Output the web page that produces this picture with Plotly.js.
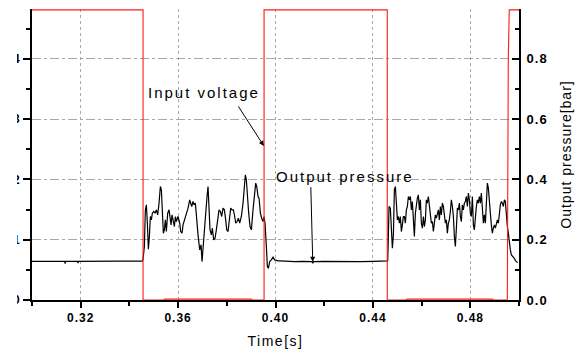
<!DOCTYPE html>
<html>
<head>
<meta charset="utf-8">
<script src="https://cdn.plot.ly/plotly-3.0.1.min.js"></script>
<style>
  html, body { margin: 0; padding: 0; background: #fff; }
  #wrap { position: relative; width: 580px; height: 351px; }
  #chart { width: 580px; height: 351px; }
  /* the reference is cropped on the left: only the right edge of the left-axis labels shows */
  #crop { position: absolute; left: 0; top: 0; width: 17px; height: 351px; background: #fff; }
  .annotation-text { letter-spacing: 2px; }
  .xtitle { letter-spacing: 1.5px; }
  .ytitle { letter-spacing: 1px; }
  .xtick text, .ytick text, .y2tick text { letter-spacing: 1px; }
</style>
</head>
<body>
<div id="wrap"><div id="chart"></div><div id="crop"></div></div>
<script>
// ---- Input voltage (red square wave), plotted on the left axis scale ----
const voltageTime = [0.3000, 0.3200, 0.3320, 0.3456, 0.3456, 0.3540, 0.3545, 0.3900, 0.3905, 0.3953, 0.3953, 0.4150, 0.4300, 0.4459, 0.4459, 0.4535, 0.4540, 0.4890, 0.4895, 0.4952, 0.4956, 0.4960, 0.5000];
const voltageValue = [0.962, 0.962, 0.962, 0.962, 0.000, 0.000, 0.003, 0.003, 0.000, 0.000, 0.962, 0.962, 0.962, 0.962, 0.000, 0.000, 0.003, 0.003, 0.000, 0.000, 0.800, 0.962, 0.962];

// ---- Output pressure [bar] (black) ----
const pressureTime = [
  0.3000, 0.3050, 0.3080, 0.3100, 0.3134, 0.3136, 0.3138, 0.3187, 0.3189, 0.3191, 0.3250, 0.3300, 0.3350, 0.3400, 0.3440, 0.3453,
  0.34560, 0.34615, 0.34656, 0.34697, 0.34738, 0.34779, 0.34820, 0.34861, 0.34902, 0.34943,
  0.34998, 0.35053, 0.35107, 0.35162, 0.35217, 0.35272, 0.35313, 0.35354, 0.35395, 0.35436,
  0.35477, 0.35518, 0.35573, 0.35628, 0.35669, 0.35710, 0.35751, 0.35792, 0.35847, 0.35888,
  0.35929, 0.35997, 0.36066, 0.36107, 0.36162, 0.36203, 0.36271, 0.36340, 0.36408, 0.36476,
  0.36517, 0.36558, 0.36613, 0.36654, 0.36709, 0.36750, 0.36819, 0.36887, 0.36942, 0.36983,
  0.37024, 0.37079, 0.37133, 0.37188, 0.37229, 0.37270, 0.37311, 0.37366, 0.37407, 0.37462,
  0.37517, 0.37571, 0.37626, 0.37681, 0.37736, 0.37790, 0.37845, 0.37900, 0.37955, 0.37996,
  0.38051, 0.38105, 0.38160, 0.38215, 0.38270, 0.38324, 0.38366, 0.38420, 0.38475, 0.38530,
  0.38598, 0.38667, 0.38721, 0.38762, 0.38803, 0.38845, 0.38899, 0.38954, 0.39009, 0.39077,
  0.39146, 0.39187, 0.39228, 0.39283, 0.39324, 0.39379, 0.39433, 0.39488, 0.39529, 0.39570,
  0.39625, 0.39666, 0.39707, 0.39762, 0.39830, 0.39899, 0.39967, 0.40035, 0.40104, 0.40172,
  0.4040, 0.4080, 0.4110, 0.4150, 0.4153, 0.4156, 0.4200, 0.4260, 0.4300, 0.4350, 0.4400, 0.4455,
  0.44553, 0.44608, 0.44635, 0.44663, 0.44717, 0.44758, 0.44799, 0.44841, 0.44882, 0.44923,
  0.44964, 0.45005, 0.45046, 0.45087, 0.45128, 0.45169, 0.45210, 0.45251, 0.45292, 0.45333,
  0.45374, 0.45416, 0.45457, 0.45498, 0.45539, 0.45580, 0.45621, 0.45662, 0.45703, 0.45744,
  0.45785, 0.45826, 0.45867, 0.45908, 0.45949, 0.45990, 0.46032, 0.46073, 0.46114, 0.46155,
  0.46196, 0.46237, 0.46278, 0.46319, 0.46360, 0.46401, 0.46442, 0.46483, 0.46524, 0.46565,
  0.46606, 0.46648, 0.46689, 0.46730, 0.46771, 0.46812, 0.46853, 0.46894, 0.46935, 0.46976,
  0.47017, 0.47058, 0.47099, 0.47140, 0.47181, 0.47222, 0.47264, 0.47305, 0.47346, 0.47387,
  0.47428, 0.47469, 0.47510, 0.47551, 0.47592, 0.47633, 0.47674, 0.47715, 0.47756, 0.47797,
  0.47838, 0.47880, 0.47921, 0.47962, 0.48003, 0.48044, 0.48085, 0.48126, 0.48167, 0.48208,
  0.48249, 0.48290, 0.48331, 0.48372, 0.48413, 0.48454, 0.48496, 0.48537, 0.48578, 0.48619,
  0.48660, 0.48701, 0.48742, 0.48783, 0.48824, 0.48865, 0.48906, 0.48947, 0.48988, 0.49029,
  0.49070, 0.49112, 0.49153, 0.49194, 0.49235, 0.49276, 0.49317, 0.49358, 0.49399, 0.49440,
  0.49481, 0.49522, 0.49563, 0.49604, 0.49645, 0.49687, 0.49728, 0.49769, 0.49810, 0.49851,
  0.49892, 0.49947
];
const pressureValue = [
  0.128, 0.128, 0.127, 0.128, 0.128, 0.121, 0.128, 0.128, 0.122, 0.128, 0.129, 0.128, 0.129, 0.129, 0.128, 0.129,
  0.1351, 0.1772, 0.2990, 0.3156, 0.2547, 0.1683, 0.2104, 0.2769, 0.2658, 0.2879,
  0.2935, 0.2879, 0.2990, 0.2824, 0.3212, 0.3765, 0.3655, 0.2879, 0.2215, 0.2326,
  0.2658, 0.2270, 0.2879, 0.2990, 0.2769, 0.2492, 0.2824, 0.2658, 0.2436, 0.2769,
  0.2602, 0.2769, 0.2547, 0.2270, 0.2215, 0.2492, 0.2658, 0.2824, 0.3046, 0.3322,
  0.3212, 0.3101, 0.3267, 0.3156, 0.3212, 0.2769, 0.2160, 0.1661, 0.1827, 0.1274,
  0.1772, 0.2436, 0.3101, 0.3433, 0.3765, 0.3212, 0.2326, 0.2160, 0.2381, 0.1993,
  0.2049, 0.2326, 0.2658, 0.2990, 0.2935, 0.2769, 0.3046, 0.2990, 0.2658, 0.2326,
  0.2270, 0.2658, 0.3046, 0.2990, 0.2990, 0.2769, 0.2547, 0.2602, 0.2713, 0.2547,
  0.2769, 0.3212, 0.3655, 0.4153, 0.3987, 0.3322, 0.2879, 0.2436, 0.2326, 0.2990,
  0.3544, 0.3876, 0.3765, 0.3433, 0.3378, 0.2879, 0.2713, 0.2602, 0.2769, 0.2547,
  0.1772, 0.1107, 0.1052, 0.1274, 0.1329, 0.1418, 0.1329, 0.1307, 0.1296, 0.1296,
  0.128, 0.127, 0.128, 0.127, 0.122, 0.127, 0.128, 0.127, 0.128, 0.127, 0.128, 0.1296,
  0.1296, 0.1296, 0.2104, 0.3101, 0.3046, 0.2326, 0.1717, 0.2160, 0.3655, 0.3765,
  0.3101, 0.2658, 0.2769, 0.2547, 0.2769, 0.2270, 0.2492, 0.2769, 0.2769, 0.2547,
  0.2990, 0.3101, 0.3433, 0.3322, 0.3433, 0.2990, 0.3267, 0.2713, 0.2104, 0.2879,
  0.3212, 0.3378, 0.3488, 0.2990, 0.3322, 0.2547, 0.2381, 0.2769, 0.2436, 0.2658,
  0.3322, 0.3212, 0.3433, 0.3046, 0.2658, 0.2547, 0.2602, 0.2270, 0.2547, 0.2824,
  0.2713, 0.2879, 0.2990, 0.2658, 0.3101, 0.2824, 0.3212, 0.3101, 0.2769, 0.2547,
  0.2658, 0.2215, 0.2547, 0.2658, 0.2935, 0.3322, 0.3101, 0.2769, 0.2104, 0.1772,
  0.2381, 0.3046, 0.2990, 0.3212, 0.2769, 0.2602, 0.3156, 0.2990, 0.3212, 0.3267,
  0.3433, 0.3101, 0.3544, 0.3322, 0.2879, 0.2769, 0.3433, 0.2492, 0.2326, 0.2879,
  0.3101, 0.3322, 0.3212, 0.3433, 0.3212, 0.3544, 0.2990, 0.2547, 0.2824, 0.2547,
  0.3212, 0.3876, 0.3710, 0.3101, 0.2879, 0.2492, 0.2215, 0.2381, 0.2492, 0.2381,
  0.2547, 0.2658, 0.2547, 0.2990, 0.3156, 0.3267, 0.3212, 0.3101, 0.3322, 0.3267,
  0.2658, 0.2436, 0.2215, 0.1772, 0.1661, 0.1495, 0.1462, 0.1418, 0.1384, 0.1307,
  0.1274, 0.1240
];

// ---- Axis ticks ----
const xTickStart = 0.32, xTickStep = 0.04;
const pressureTickStep = 0.2;
const leftTickVals = [0, 0.2, 0.4, 0.6, 0.8];
const leftTickLabels = ["0", "1", "2", "3", "4"];
const leftMinorVals = [0.1, 0.3, 0.5, 0.7, 0.9];

const FONT = 'Arial, "Liberation Sans", Helvetica, sans-serif';

const traces = [
  { x: pressureTime, y: pressureValue, type: 'scatter', mode: 'lines', yaxis: 'y',
    line: { color: '#000000', width: 1.2 }, hoverinfo: 'skip', name: 'Output pressure' },
  { x: voltageTime, y: voltageValue, type: 'scatter', mode: 'lines', yaxis: 'y2',
    line: { color: '#ff1a1a', width: 1.1 }, hoverinfo: 'skip', name: 'Input voltage' }
];

const layout = {
  width: 580, height: 351,
  margin: { l: 32, r: 61, t: 9, b: 51, pad: 0 },
  paper_bgcolor: '#ffffff', plot_bgcolor: '#ffffff',
  showlegend: false,
  font: { family: FONT, color: '#000000', size: 12 },
  xaxis: {
    range: [0.30, 0.50], tick0: xTickStart, dtick: xTickStep, tickformat: '.2f',
    ticks: 'outside', ticklen: 6, tickwidth: 2, tickcolor: '#000',
    showline: true, linewidth: 2, linecolor: '#000', mirror: false,
    showgrid: true, gridcolor: '#a8a8a8', griddash: 'dot', gridwidth: 1,
    zeroline: false,
    tickfont: { family: FONT, size: 12, weight: 'bold' },
    minor: { tick0: 0.30, dtick: 0.02, ticks: 'outside', ticklen: 4, tickwidth: 2, tickcolor: '#000', showgrid: false },
    title: { text: 'Time[s]', font: { family: FONT, size: 14 }, standoff: 12 }
  },
  yaxis: {
    side: 'right', range: [0, 0.965], tick0: 0, dtick: pressureTickStep, tickformat: '.1f',
    ticks: 'inside', ticklen: 7, tickwidth: 2, tickcolor: '#000',
    showline: true, linewidth: 2, linecolor: '#000',
    showgrid: true, gridcolor: '#a8a8a8', griddash: 'dashdot', gridwidth: 1,
    zeroline: false,
    tickfont: { family: FONT, size: 13, weight: 'bold' },
    ticklabelstandoff: 3,
    minor: { tick0: 0, dtick: 0.1, ticks: 'inside', ticklen: 4, tickwidth: 2, tickcolor: '#000', showgrid: false },
    title: { text: 'Output pressure[bar]', font: { family: FONT, size: 14 }, standoff: 15 }
  },
  yaxis2: {
    overlaying: 'y', side: 'left', range: [0, 0.965],
    tickmode: 'array', tickvals: leftTickVals, ticktext: leftTickLabels,
    ticks: 'outside', ticklen: 7, tickwidth: 2, tickcolor: '#000',
    showline: true, linewidth: 2, linecolor: '#000',
    showgrid: false, zeroline: false,
    tickfont: { family: FONT, size: 12, weight: 'bold' },
    minor: { tickmode: 'array', tickvals: leftMinorVals, ticks: 'outside', ticklen: 4, tickwidth: 2, tickcolor: '#000', showgrid: false }
  },
  annotations: [
    { text: 'Input voltage', xref: 'x', yref: 'y', x: 0.3705, y: 0.687, showarrow: false,
      font: { family: FONT, size: 15, color: '#000' }, xanchor: 'center', yanchor: 'middle' },
    { text: ' ', xref: 'x', yref: 'y', x: 0.3952, y: 0.511, showarrow: true, ax: -27, ay: -42,
      arrowhead: 2, arrowsize: 1, arrowwidth: 1, arrowcolor: '#000', font: { size: 2 } },
    { text: 'Output pressure', xref: 'x', yref: 'y', x: 0.4284, y: 0.411, showarrow: false,
      font: { family: FONT, size: 15, color: '#000' }, xanchor: 'center', yanchor: 'middle' },
    { text: ' ', xref: 'x', yref: 'y', x: 0.4153, y: 0.127, showarrow: true, ax: -2, ay: -77,
      arrowhead: 2, arrowsize: 1, arrowwidth: 1, arrowcolor: '#000', font: { size: 2 } }
  ]
};

Plotly.newPlot('chart', traces, layout, { staticPlot: true, displayModeBar: false });
</script>
</body>
</html>
